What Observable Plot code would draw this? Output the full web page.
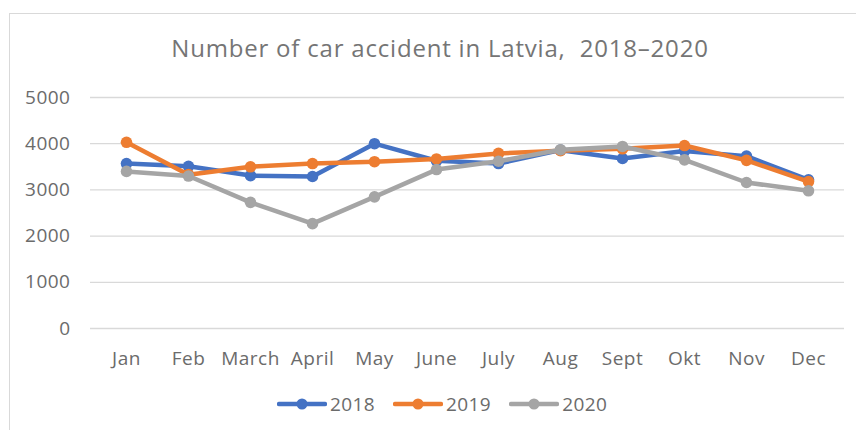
<!DOCTYPE html>
<html>
<head>
<meta charset="utf-8">
<script src="https://cdn.jsdelivr.net/npm/d3@7"></script>
<script src="https://cdn.jsdelivr.net/npm/@observablehq/plot@0.6"></script>
<style>
  html, body { margin: 0; padding: 0; width: 856px; height: 430px; overflow: hidden; background: #fff; font-family: "Open Sans", sans-serif; }
  #frame { position: absolute; left: 9px; top: 13px; width: 900px; height: 500px; border: 1.5px solid #d9d9d9; box-sizing: border-box; }
  #title { position: absolute; left: 0; top: 31px; width: 880px; text-align: center; font-size: 24px; letter-spacing: 0.8px; color: #757575; white-space: pre; }
  #chart { position: absolute; left: 0; top: 80px; }
  #legend { position: absolute; left: 277px; top: 392px; display: flex; align-items: center; font-size: 19px; letter-spacing: 0.4px; color: #6b6b6b; }
  .item { display: flex; align-items: center; margin-right: 18px; }
  .item span { margin-left: 3px; line-height: 24px; }
</style>
</head>
<body>
<div id="frame"></div>
<div id="title">Number of car accident in Latvia,  2018–2020</div>
<div id="chart"></div>
<div id="legend"></div>
<script>
const months = ["Jan", "Feb", "March", "April", "May", "June", "July", "Aug", "Sept", "Okt", "Nov", "Dec"];
const years = ["2018", "2019", "2020"];
const colors = ["#4472C4", "#ED7D31", "#A5A5A5"];
const v2018 = [3570, 3510, 3310, 3290, 4000, 3630, 3570, 3860, 3680, 3840, 3730, 3220];
const v2019 = [4030, 3330, 3500, 3570, 3610, 3670, 3790, 3850, 3890, 3960, 3640, 3180];
const v2020 = [3400, 3300, 2730, 2270, 2850, 3440, 3620, 3870, 3940, 3650, 3160, 2980];
const yTicks = [0, 1000, 2000, 3000, 4000, 5000];

const series = [v2018, v2019, v2020];
const data = years.flatMap((yr, i) => months.map((m, j) => ({month: m, year: yr, value: series[i][j]})));

const marks = [
  Plot.gridY(yTicks, {stroke: "#d9d9d9", strokeOpacity: 1, strokeWidth: 1.3}),
  Plot.axisY(yTicks, {tickSize: 0, tickPadding: 20, tickFormat: d => String(d)}),
  Plot.axisX({tickSize: 0, tickPadding: 23})
];
years.forEach(yr => {
  const d = data.filter(r => r.year === yr);
  marks.push(Plot.line(d, {x: "month", y: "value", stroke: "year", strokeWidth: 4.5, strokeLinejoin: "round", strokeLinecap: "round"}));
  marks.push(Plot.dot(d, {x: "month", y: "value", fill: "year", r: 5.8, stroke: "none"}));
});

const chart = Plot.plot({
  width: 856,
  height: 300,
  marginTop: 17,
  marginBottom: 52,
  marginLeft: 90,
  marginRight: 12,
  style: {fontSize: "19px", letterSpacing: "0.5px", fontFamily: "Open Sans", color: "#6b6b6b", background: "transparent", overflow: "visible"},
  x: {type: "point", domain: months, padding: 0.5, label: null},
  y: {domain: [0, 5000], label: null},
  color: {domain: years, range: colors},
  marks
});
document.getElementById("chart").appendChild(chart);

const legend = document.getElementById("legend");
years.forEach((yr, i) => {
  const item = document.createElement("div");
  item.className = "item";
  item.innerHTML = `<svg width="50" height="14"><line x1="2" y1="7" x2="48" y2="7" stroke="${colors[i]}" stroke-width="4.5" stroke-linecap="round"/><circle cx="25" cy="7" r="5.5" fill="${colors[i]}"/></svg><span>${yr}</span>`;
  legend.appendChild(item);
});
</script>
</body>
</html>
